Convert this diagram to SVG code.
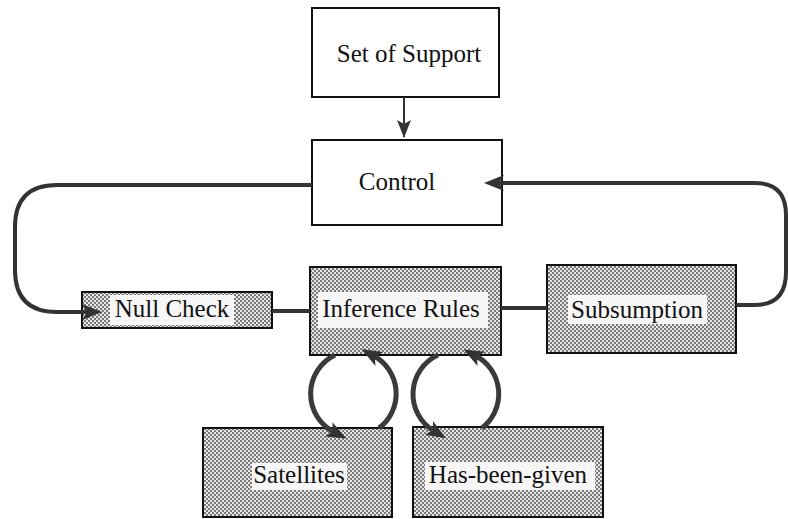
<svg xmlns="http://www.w3.org/2000/svg" width="788" height="519" viewBox="0 0 788 519">
<defs>
<pattern id="stip" width="4" height="4" patternUnits="userSpaceOnUse">
<rect width="4" height="4" fill="#e6e6e6"/>
<rect x="0" y="0" width="2" height="2" fill="#7a7a7a"/>
<rect x="2" y="2" width="2" height="2" fill="#7a7a7a"/>
</pattern>
<marker id="ah" markerUnits="userSpaceOnUse" markerWidth="22" markerHeight="18" refX="6" refY="8" orient="auto" viewBox="0 0 22 18">
<path d="M0,0 L20,8 L0,16 L5,8 z" fill="#333"/>
</marker>
<marker id="ahs" markerUnits="userSpaceOnUse" markerWidth="18" markerHeight="16" refX="17" refY="7" orient="auto" viewBox="0 0 18 16">
<path d="M0,0 L18,7 L0,14 L4,7 z" fill="#333"/>
</marker>
</defs>
<style>
.plain{fill:#fff;stroke:#111;stroke-width:2}
.shade{fill:url(#stip);stroke:#111;stroke-width:2}
.lbl{fill:#f6f6f6}
text{font-family:"Liberation Serif","Times New Roman",serif;font-size:25px;fill:#111;text-anchor:middle}
.conn{fill:none;stroke:#333;stroke-width:4}
.loop{fill:none;stroke:#3a3a3a;stroke-width:5}
</style>
<rect width="788" height="519" fill="#fff"/>
<g id="set-of-support">
<rect class="plain" x="312" y="8" width="187" height="89"/>
<text x="409" y="62">Set of Support</text>
</g>
<g id="control">
<rect class="plain" x="312" y="140" width="190" height="85"/>
<text x="397" y="190">Control</text>
</g>
<g id="null-check">
<rect class="shade" x="82" y="292" width="190" height="36"/>
<rect class="lbl" x="110" y="295" width="124" height="30"/>
<text x="172" y="317">Null Check</text>
</g>
<g id="inference-rules">
<rect class="shade" x="310" y="267" width="191" height="88"/>
<rect class="lbl" x="318" y="292" width="170" height="36"/>
<text x="401" y="317">Inference Rules</text>
</g>
<g id="subsumption">
<rect class="shade" x="547" y="265" width="189" height="88"/>
<rect class="lbl" x="568" y="295" width="139" height="29"/>
<text x="637" y="318">Subsumption</text>
</g>
<g id="satellites">
<rect class="shade" x="203" y="428" width="189" height="89"/>
<rect class="lbl" x="252" y="463" width="95" height="27"/>
<text x="299" y="483">Satellites</text>
</g>
<g id="has-been-given">
<rect class="shade" x="413" y="427" width="190" height="90"/>
<rect class="lbl" x="425" y="462" width="170" height="28"/>
<text x="508" y="483">Has-been-given</text>
</g>
<g id="connectors">
<path class="conn" style="stroke-width:2" d="M404,97 V137" marker-end="url(#ahs)"/>
<path class="conn" d="M312,185 H57 Q15,185 15,227 V270 Q15,312 57,312 H88" marker-end="url(#ah)"/>
<path class="conn" d="M736,305 H755 Q786,305 786,272 V215 Q786,183 755,183 H498" marker-end="url(#ah)"/>
<path class="conn" d="M272,311 H310"/>
<path class="conn" d="M501,308 H547"/>
<path class="loop" d="M335,355 A43,43 0 0 0 334,432" marker-end="url(#ah)"/>
<path class="loop" d="M379,428 A43,43 0 0 0 374,356" marker-end="url(#ah)"/>
<path class="loop" d="M438,355 A43,43 0 0 0 434,431" marker-end="url(#ah)"/>
<path class="loop" d="M482,428 A43,43 0 0 0 476,356" marker-end="url(#ah)"/>
</g>
</svg>
